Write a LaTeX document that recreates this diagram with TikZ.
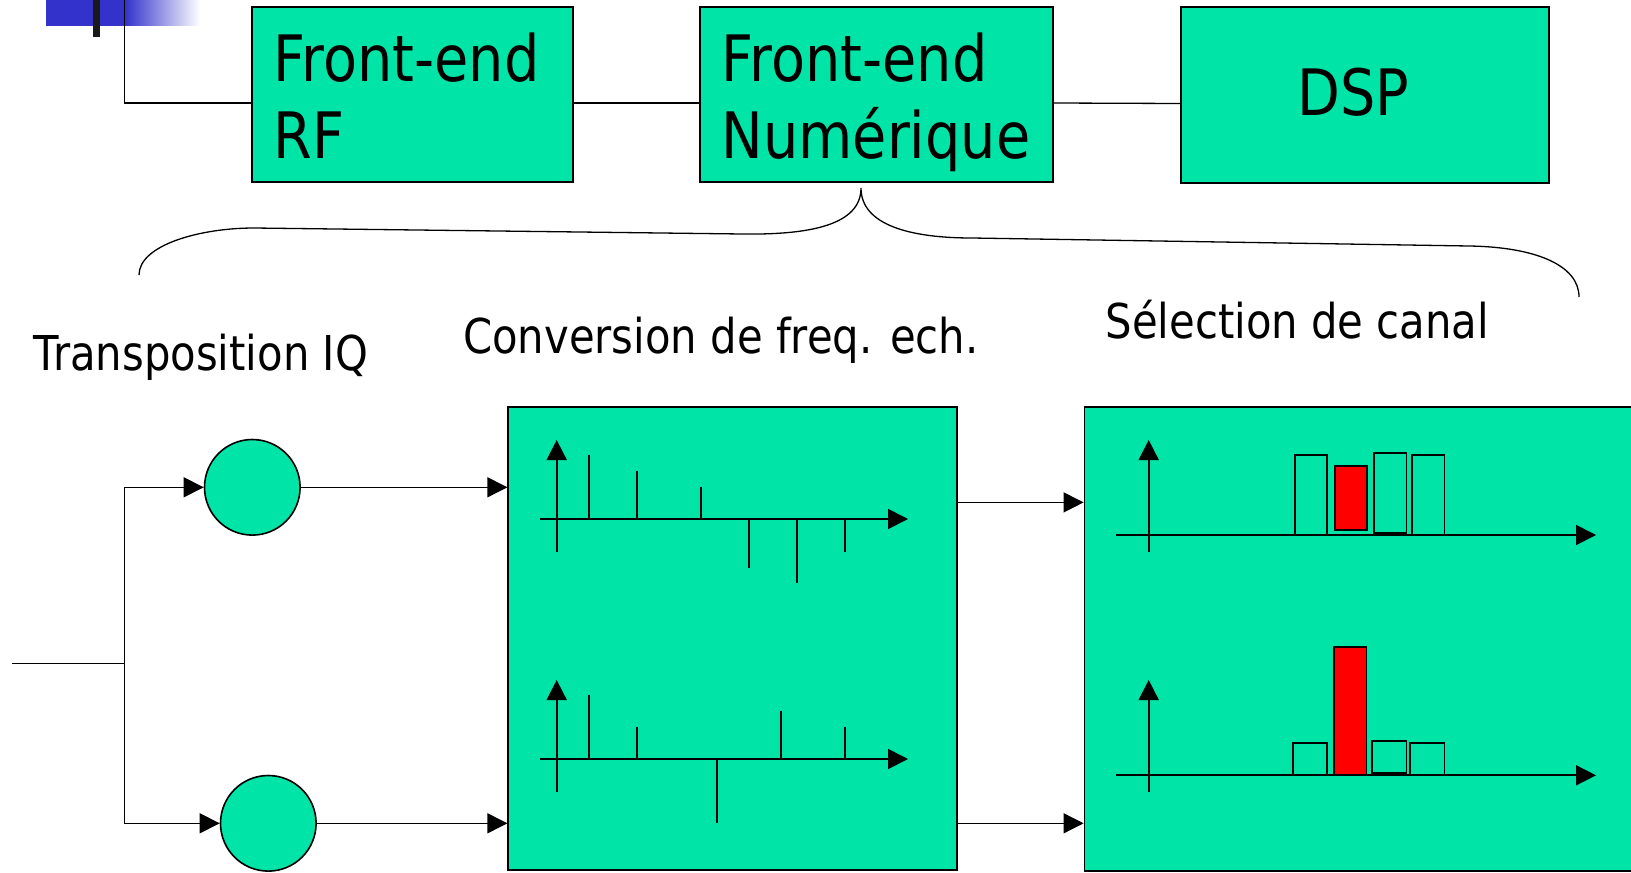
\documentclass[tikz,border=0pt]{standalone}
\usepackage{fontspec}
\setmainfont{DejaVu Sans}[FakeStretch=0.87]
\usetikzlibrary{arrows.meta}

\definecolor{vertbloc}{RGB}{0,228,168}
\definecolor{bleutitre}{RGB}{51,51,204}

\tikzset{
  bloc/.style={draw, line width=0.9pt, fill=vertbloc, inner sep=0pt},
  mixeur/.style={circle, draw, line width=0.8pt, fill=vertbloc, inner sep=0pt, minimum size=47.8pt},
  titre/.style={font=\fontsize{32}{38}\selectfont, inner sep=0pt},
  legende/.style={font=\fontsize{24}{29}\selectfont, inner sep=0pt},
  fleche/.style={-{Triangle[length=10pt,width=10pt]}},
  axe/.style={line width=0.85pt, -{Triangle[length=10pt,width=10pt]}},
  raie/.style={line width=0.85pt},
  canal/.style={draw, line width=0.85pt, fill=vertbloc},
}

\begin{document}
\begin{tikzpicture}[x=0.5pt,y=-0.5pt,line width=0.65pt]
\clip (0,0) rectangle (1631,872);

% bandeau
\fill[bleutitre] (46,0) rectangle (125,26);
\shade[left color=bleutitre, right color=white] (125,0) rectangle (200,26);
\fill[black!90] (93,0) rectangle (100,37);

% chaine de reception
\node[bloc, minimum width=160.5pt, minimum height=87.5pt] (rf) at (412.5,94.5) {};
\node[bloc, minimum width=176.5pt, minimum height=87.5pt] (num) at (876.5,94.5) {};
\node[bloc, minimum width=184pt, minimum height=88pt] (dsp) at (1365,95) {};
\node[titre, anchor=base west] (rfa) at (273,82) {Front-end};
\node[titre, anchor=base west] (rfb) at (273,158) {RF};
\node[titre, anchor=base west] (numa) at (721,82) {Front-end};
\node[titre, anchor=base west] (numb) at (721,158) {Numérique};
\node[titre, anchor=base west] (dspa) at (1297,116) {DSP};

\coordinate (antenne) at (124.3,0);
\draw (antenne) |- ([yshift=-4.25pt]rf.west);
\draw ([yshift=-4.25pt]rf.east) -- ([yshift=-4.25pt]num.west);
\draw ([yshift=-4.25pt]num.east) -- ([yshift=-4.25pt]dsp.west);

% accolade
\draw (139,275) .. controls (139,245) and (200,228) .. (254,228) -- (742,234)
  .. controls (810,235) and (861,225) .. (861,188)
  .. controls (861,225) and (910,238) .. (972,238) -- (1469,246)
  .. controls (1535,247) and (1579,265) .. (1579,297);

\node[legende, anchor=base west] (tiq) at (33,370) {Transposition IQ};
\node[legende, anchor=base west] (tconv) at (462.5,353) {Conversion de freq. ech.};
\node[legende, anchor=base west] (tsel) at (1105,338) {Sélection de canal};

% transposition IQ
\node[mixeur] (mixi) at (252.3,487.3) {};
\node[mixeur] (mixq) at (268.3,823.3) {};
\node[bloc, minimum width=224.2pt, minimum height=231.65pt] (conv) at (732.5,638.35) {};
\node[bloc, minimum width=280pt, minimum height=232.15pt] (sel) at (1364.5,638.85) {};

\coordinate (entree) at (12,663.3);
\coordinate (noeud) at (124.3,663.3);
\draw (entree) -- (noeud);
\draw[fleche] (noeud) |- (mixi);
\draw[fleche] (noeud) |- (mixq);
\draw[fleche] (mixi) -- (conv.west |- mixi);
\draw[fleche] (mixq) -- (conv.west |- mixq);
\draw[fleche] ([yshift=-48.3pt]conv.north east) -- ([yshift=-48.3pt]sel.north west);
\draw[fleche] (conv.east |- mixq) -- (sel.west |- mixq);

% spectres conversion
\draw[axe] (540,519) -- (908,519);
\draw[axe] (556.7,551.7) -- (556.7,440);
\foreach \x/\y in {588.7/455, 636.7/470.7, 700.7/486.7, 748.7/567.7, 796.7/583.3, 844.7/551.7}
  \draw[raie] (\x,519) -- (\x,\y);
\draw[axe] (540,759) -- (908,759);
\draw[axe] (556.7,791.7) -- (556.7,680);
\foreach \x/\y in {588.7/695, 636.7/726.7, 717/823.3, 781/710.7, 844.7/726.7}
  \draw[raie] (\x,759) -- (\x,\y);

% spectres selection
\foreach \a/\b/\c/\d in {1294.7/1327/455/535, 1373.7/1406.4/453/533.3, 1412/1444.4/455/535}
  \draw[canal] (\a,\c) rectangle (\b,\d);
\draw[canal, fill=red] (1334.7,466) rectangle (1367,530);
\draw[axe] (1116,535) -- (1596,535);
\draw[axe] (1148.7,551.7) -- (1148.7,440);
\foreach \a/\b/\c/\d in {1293/1327/742.7/775.3, 1372/1406.4/741/773.3, 1410/1444.4/742.7/775.3}
  \draw[canal] (\a,\c) rectangle (\b,\d);
\draw[canal, fill=red] (1333.7,647) rectangle (1366.4,775.3);
\draw[axe] (1116,775.3) -- (1596,775.3);
\draw[axe] (1148.7,791.7) -- (1148.7,680);

\end{tikzpicture}
\end{document}
